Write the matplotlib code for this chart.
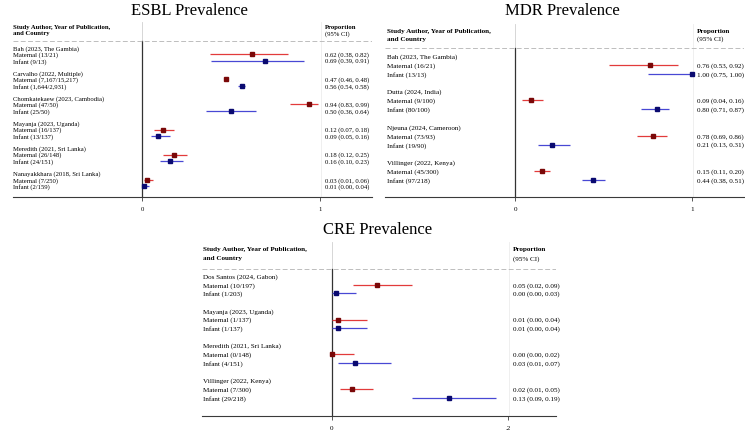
import matplotlib
matplotlib.use("Agg")
import matplotlib.pyplot as plt

plt.rcParams['font.family'] = ['Liberation Serif', 'DejaVu Serif']

W, H = 745, 439
fig = plt.figure(figsize=(7.45, 4.39), dpi=100)

MAT_LINE = '#e23b3b'
MAT_MARK = '#7a0808'
INF_LINE = '#4848d4'
INF_MARK = '#0a0a70'

# ---------------- data ----------------
esbl_studies = ["Bah (2023, The Gambia)", "Carvalho (2022, Multiple)",
                "Chomkatekaew (2023, Cambodia)", "Mayanja (2023, Uganda)",
                "Meredith (2021, Sri Lanka)", "Nanayakkhara (2018, Sri Lanka)"]
esbl_mat_n = ["13/21", "7,167/15,217", "47/50", "16/137", "26/148", "7/250"]
esbl_inf_n = ["9/13", "1,644/2,931", "25/50", "13/137", "24/151", "2/159"]
esbl_mat_est = [0.62, 0.47, 0.94, 0.12, 0.18, 0.03]
esbl_mat_lo = [0.38, 0.46, 0.83, 0.07, 0.12, 0.01]
esbl_mat_hi = [0.82, 0.48, 0.99, 0.18, 0.25, 0.06]
esbl_inf_est = [0.69, 0.56, 0.50, 0.09, 0.16, 0.01]
esbl_inf_lo = [0.39, 0.54, 0.36, 0.05, 0.10, 0.00]
esbl_inf_hi = [0.91, 0.58, 0.64, 0.16, 0.23, 0.04]
esbl_mat_lab = ["0.62 (0.38, 0.82)", "0.47 (0.46, 0.48)", "0.94 (0.83, 0.99)",
                "0.12 (0.07, 0.18)", "0.18 (0.12, 0.25)", "0.03 (0.01, 0.06)"]
esbl_inf_lab = ["0.69 (0.39, 0.91)", "0.56 (0.54, 0.58)", "0.50 (0.36, 0.64)",
                "0.09 (0.05, 0.16)", "0.16 (0.10, 0.23)", "0.01 (0.00, 0.04)"]

mdr_studies = ["Bah (2023, The Gambia)", "Dutta (2024, India)",
               "Njeuna (2024, Cameroon)", "Villinger (2022, Kenya)"]
mdr_mat_n = ["16/21", "9/100", "73/93", "45/300"]
mdr_inf_n = ["13/13", "80/100", "19/90", "97/218"]
mdr_mat_est = [0.76, 0.09, 0.78, 0.15]
mdr_mat_lo = [0.53, 0.04, 0.69, 0.11]
mdr_mat_hi = [0.92, 0.16, 0.86, 0.20]
mdr_inf_est = [1.00, 0.80, 0.21, 0.44]
mdr_inf_lo = [0.75, 0.71, 0.13, 0.38]
mdr_inf_hi = [1.00, 0.87, 0.31, 0.51]
mdr_mat_lab = ["0.76 (0.53, 0.92)", "0.09 (0.04, 0.16)", "0.78 (0.69, 0.86)", "0.15 (0.11, 0.20)"]
mdr_inf_lab = ["1.00 (0.75, 1.00)", "0.80 (0.71, 0.87)", "0.21 (0.13, 0.31)", "0.44 (0.38, 0.51)"]

cre_studies = ["Dos Santos (2024, Gabon)", "Mayanja (2023, Uganda)",
               "Meredith (2021, Sri Lanka)", "Villinger (2022, Kenya)"]
cre_mat_n = ["10/197", "1/137", "0/148", "7/300"]
cre_inf_n = ["1/203", "1/137", "4/151", "29/218"]
cre_mat_est = [0.051, 0.007, 0.000, 0.023]
cre_mat_lo = [0.024, 0.000, 0.000, 0.009]
cre_mat_hi = [0.091, 0.040, 0.025, 0.047]
cre_inf_est = [0.005, 0.007, 0.026, 0.133]
cre_inf_lo = [0.000, 0.000, 0.007, 0.091]
cre_inf_hi = [0.027, 0.040, 0.067, 0.186]
cre_mat_lab = ["0.05 (0.02, 0.09)", "0.01 (0.00, 0.04)", "0.00 (0.00, 0.02)", "0.02 (0.01, 0.05)"]
cre_inf_lab = ["0.00 (0.00, 0.03)", "0.01 (0.00, 0.04)", "0.03 (0.01, 0.07)", "0.13 (0.09, 0.19)"]


def panel(title, title_xy, box, zero_px, unit_px, row0, rowh, hdr_y, dash_y, vtop,
          text_x, prop_x, studies, mat_n, inf_n, mest, mlo, mhi, iest, ilo, ihi,
          mlab, ilab, xticks, xticklabels, fs):
    left, right, top, bottom = box
    ax = fig.add_axes([left / W, 1 - bottom / H, (right - left) / W, (bottom - top) / H])
    ax.set_xlim((left - zero_px) / unit_px, (right - zero_px) / unit_px)
    ax.set_ylim(bottom, top)
    px2x = lambda p: (p - zero_px) / unit_px

    for s in ['left', 'right', 'top']:
        ax.spines[s].set_visible(False)
    ax.spines['bottom'].set_color('#3a3a3a')
    ax.spines['bottom'].set_linewidth(0.8)
    ax.set_yticks([])
    ax.set_xticks(xticks)
    ax.set_xticklabels(xticklabels)
    ax.tick_params(axis='x', length=3, width=0.6, color='#3a3a3a', labelsize=fs, pad=3.5)

    # zero line
    ax.plot([0, 0], [vtop, dash_y], color='#d0d0d0', lw=0.6, zorder=1)
    ax.plot([0, 0], [dash_y, bottom], color='#333333', lw=0.9, zorder=1)
    # right column faint line
    rx = px2x(prop_x - 4)
    ax.plot([rx, rx], [vtop, bottom], color='#ececec', lw=0.6, zorder=0)
    # dashed separator
    ax.plot([px2x(left), px2x(right)], [dash_y, dash_y], color='#bdbdbd', lw=0.7,
            dashes=(5, 2.5), zorder=1)

    tx = px2x(text_x)
    pxv = px2x(prop_x)
    ax.text(tx, hdr_y[0], "Study Author, Year of Publication,", fontsize=fs,
            fontweight='bold', va='center', ha='left')
    ax.text(tx, hdr_y[1], "and Country", fontsize=fs, fontweight='bold', va='center', ha='left')
    ax.text(pxv, hdr_y[0], "Proportion", fontsize=fs, fontweight='bold', va='center', ha='left')
    ax.text(pxv, hdr_y[1], "(95% CI)", fontsize=fs, va='center', ha='left')

    for i, name in enumerate(studies):
        yh = row0 + 4 * i * rowh
        ym = yh + rowh
        yi = yh + 2 * rowh
        ax.text(tx, yh, name, fontsize=fs, va='center', ha='left')
        ax.text(tx, ym, f"Maternal ({mat_n[i]})", fontsize=fs, va='center', ha='left')
        ax.text(tx, yi, f"Infant ({inf_n[i]})", fontsize=fs, va='center', ha='left')
        ax.text(pxv, ym, mlab[i], fontsize=fs, va='center', ha='left')
        ax.text(pxv, yi, ilab[i], fontsize=fs, va='center', ha='left')
        ax.plot([mlo[i], mhi[i]], [ym, ym], color=MAT_LINE, lw=0.9, zorder=2, solid_capstyle='butt')
        ax.plot([mest[i]], [ym], marker='s', ms=3.3, color=MAT_MARK, zorder=3, lw=0)
        ax.plot([ilo[i], ihi[i]], [yi, yi], color=INF_LINE, lw=0.9, zorder=2, solid_capstyle='butt')
        ax.plot([iest[i]], [yi], marker='s', ms=3.3, color=INF_MARK, zorder=3, lw=0)

    fig.text(title_xy[0] / W, 1 - title_xy[1] / H, title, fontsize=12, ha='center', va='center')
    return ax


panel("ESBL Prevalence", (189, 11), (13, 372, 20, 198), 142, 178, 49, 6.27,
      (28, 34), 42, 23, 13, 325, esbl_studies, esbl_mat_n, esbl_inf_n,
      esbl_mat_est, esbl_mat_lo, esbl_mat_hi, esbl_inf_est, esbl_inf_lo, esbl_inf_hi,
      esbl_mat_lab, esbl_inf_lab, [0, 1], ["0", "1"], 4.75)

panel("MDR Prevalence", (562, 11), (385, 744, 22, 198), 515, 177, 57, 8.86,
      (31, 39), 49, 25, 387, 697, mdr_studies, mdr_mat_n, mdr_inf_n,
      mdr_mat_est, mdr_mat_lo, mdr_mat_hi, mdr_inf_est, mdr_inf_lo, mdr_inf_hi,
      mdr_mat_lab, mdr_inf_lab, [0, 1], ["0", "1"], 5.1)

panel("CRE Prevalence", (378, 230), (202, 556, 242, 417), 332, 880, 277, 8.7,
      (250, 259), 270, 243, 203, 513, cre_studies, cre_mat_n, cre_inf_n,
      cre_mat_est, cre_mat_lo, cre_mat_hi, cre_inf_est, cre_inf_lo, cre_inf_hi,
      cre_mat_lab, cre_inf_lab, [0, 0.2], ["0", ".2"], 5.1)

fig.savefig("out.png", dpi=100)
